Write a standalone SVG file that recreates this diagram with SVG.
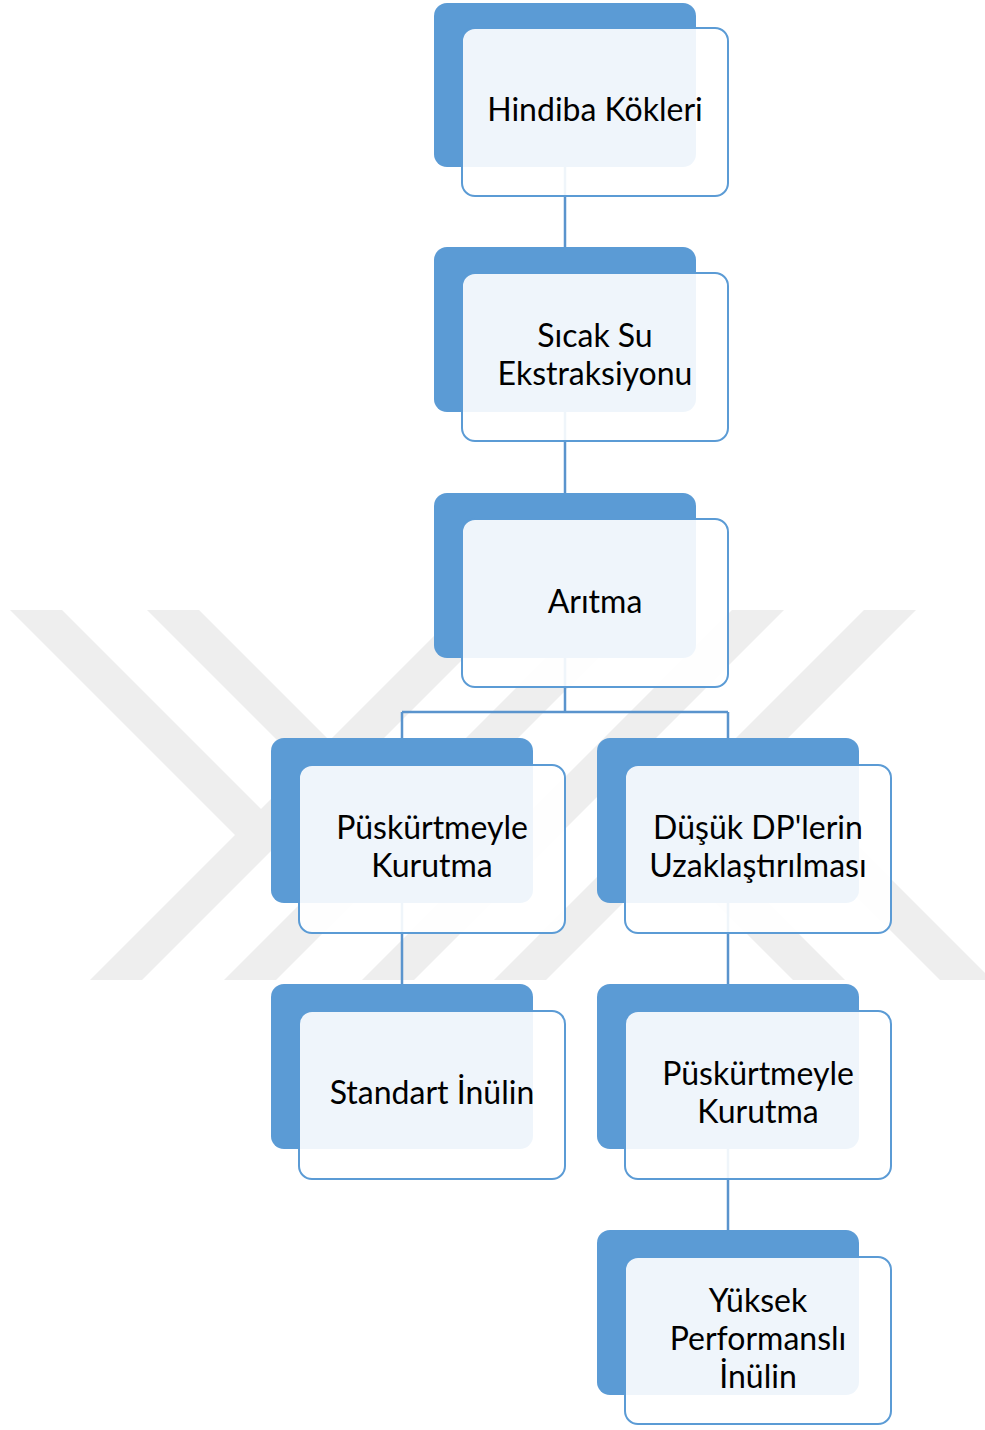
<svg xmlns="http://www.w3.org/2000/svg" width="985" height="1430" viewBox="0 0 985 1430">
  <style>
    .wm { fill: #EEEEEE; }
    .back { fill: #5B9BD5; }
    .front { fill: #FFFFFF; fill-opacity: 0.9; stroke: #5B9BD5; stroke-width: 2; }
    .link { fill: none; stroke: #5A94CD; stroke-width: 2.5; }
    .lbl { font-family: Lato, "Open Sans", sans-serif; font-size: 32px; fill: #000000; text-anchor: middle; }
  </style>

  <rect width="985" height="1430" fill="#FFFFFF"/>

  <!-- faint background emblem: four rising bands with two arms on each side -->
  <g id="watermark">
    <polygon class="wm" points="90,980 142,980 512,610 460,610"/>
    <polygon class="wm" points="224,980 276,980 646,610 594,610"/>
    <polygon class="wm" points="362,980 414,980 784,610 732,610"/>
    <polygon class="wm" points="494,980 546,980 916,610 864,610"/>
    <polygon class="wm" points="10,610 62,610 275,823 249,849"/>
    <polygon class="wm" points="147,610 199,610 410,821 384,847"/>
    <polygon class="wm" points="793,980 845,980 616,751 590,777"/>
    <polygon class="wm" points="940,980 992,980 756,744 730,770"/>
  </g>

  <g id="connectors">
    <path class="link" d="M565 166V247 M565 412V493 M565 658V712 M402 712H728 M402 712V738 M728 712V738 M402 903V984 M728 903V984 M728 1149V1230"/>
  </g>

  <g id="node-hindiba">
    <rect class="back" x="434" y="3" width="262" height="164" rx="13"/>
    <rect class="front" x="462" y="28" width="266" height="168" rx="13"/>
    <text class="lbl" x="595" y="121">Hindiba Kökleri</text>
  </g>

  <g id="node-ekstraksiyon">
    <rect class="back" x="434" y="247" width="262" height="165" rx="13"/>
    <rect class="front" x="462" y="273" width="266" height="168" rx="13"/>
    <text class="lbl" x="595" y="347">Sıcak Su</text>
    <text class="lbl" x="595" y="385">Ekstraksiyonu</text>
  </g>

  <g id="node-aritma">
    <rect class="back" x="434" y="493" width="262" height="165" rx="13"/>
    <rect class="front" x="462" y="519" width="266" height="168" rx="13"/>
    <text class="lbl" x="595" y="613">Arıtma</text>
  </g>

  <g id="node-kurutma-1">
    <rect class="back" x="271" y="738" width="262" height="165" rx="13"/>
    <rect class="front" x="299" y="765" width="266" height="168" rx="13"/>
    <text class="lbl" x="432" y="839">Püskürtmeyle</text>
    <text class="lbl" x="432" y="877">Kurutma</text>
  </g>

  <g id="node-dusuk-dp">
    <rect class="back" x="597" y="738" width="262" height="165" rx="13"/>
    <rect class="front" x="625" y="765" width="266" height="168" rx="13"/>
    <text class="lbl" x="758" y="839">Düşük DP'lerin</text>
    <text class="lbl" x="758" y="877">Uzaklaştırılması</text>
  </g>

  <g id="node-standart">
    <rect class="back" x="271" y="984" width="262" height="165" rx="13"/>
    <rect class="front" x="299" y="1011" width="266" height="168" rx="13"/>
    <text class="lbl" x="432" y="1104">Standart İnülin</text>
  </g>

  <g id="node-kurutma-2">
    <rect class="back" x="597" y="984" width="262" height="165" rx="13"/>
    <rect class="front" x="625" y="1011" width="266" height="168" rx="13"/>
    <text class="lbl" x="758" y="1085">Püskürtmeyle</text>
    <text class="lbl" x="758" y="1123">Kurutma</text>
  </g>

  <g id="node-yuksek">
    <rect class="back" x="597" y="1230" width="262" height="165" rx="13"/>
    <rect class="front" x="625" y="1257" width="266" height="167" rx="13"/>
    <text class="lbl" x="758" y="1312">Yüksek</text>
    <text class="lbl" x="758" y="1350">Performanslı</text>
    <text class="lbl" x="758" y="1388">İnülin</text>
  </g>
</svg>
